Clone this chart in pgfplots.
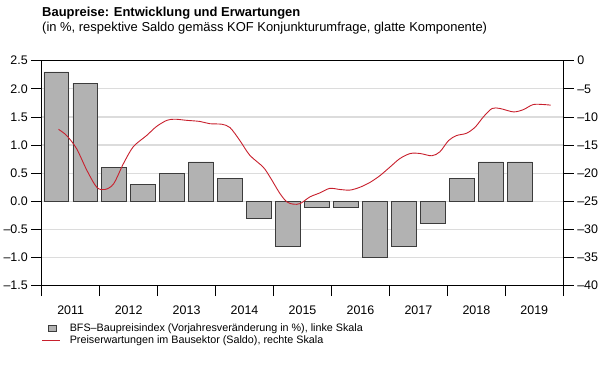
\documentclass[border=0pt]{standalone}
\usepackage{fontspec}
\setmainfont{Liberation Sans}
\usepackage{pgfplots}
\pgfplotsset{compat=1.18}
\definecolor{barfill}{RGB}{178,178,178}
\definecolor{bardraw}{RGB}{60,60,60}
\definecolor{linered}{RGB}{200,32,45}
\definecolor{gridgray}{RGB}{220,220,220}
\begin{document}
\begin{tikzpicture}
\path[use as bounding box] (0bp,0bp) rectangle (600bp,-374bp);
\node[anchor=west,font=\fontsize{13}{15}\selectfont\bfseries,inner sep=0] at (42bp,-13bp) {Baupreise: Entwicklung und Erwartungen};
\node[anchor=west,font=\fontsize{13}{15}\selectfont,inner sep=0] at (42bp,-28bp) {(in \%, respektive Saldo gemäss KOF Konjunkturumfrage, glatte Komponente)};
\begin{axis}[
  at={(41.7bp,-285.7bp)}, anchor=south west,
  width=521.6bp, height=225bp, scale only axis,
  xmin=2011, xmax=2020, ymin=-1.5, ymax=2.5,
  ytick={-1.5,-1,-0.5,0,0.5,1,1.5,2,2.5},
  yticklabels={–1.5,–1.0,–0.5,0.0,0.5,1.0,1.5,2.0,2.5},
  ytick pos=left, xtick pos=bottom,
  xtick={2011,2012,...,2020}, xticklabels={},
  minor x tick num=3,
  extra x ticks={2011.5,2012.5,2013.5,2014.5,2015.5,2016.5,2017.5,2018.5,2019.5},
  extra x tick labels={2011,2012,2013,2014,2015,2016,2017,2018,2019},
  extra x tick style={major tick length=0pt, xticklabel style={yshift=-17bp}},
  ymajorgrids, grid style={gridgray, line width=1.3bp},
  tick align=outside, major tick length=10.5bp, minor tick length=6bp,
  tick style={black, line width=0.9bp},
  axis line style={line width=1bp},
  tick label style={font=\fontsize{12.5}{14}\selectfont},
]
\addplot[ybar, bar width=24.5bp, bar shift=0pt, fill=barfill, draw=bardraw, line width=0.8bp] coordinates {
(2011.25,2.3) (2011.75,2.1) (2012.25,0.6) (2012.75,0.3) (2013.25,0.5) (2013.75,0.7)
(2014.25,0.4) (2014.75,-0.3) (2015.25,-0.8) (2015.75,-0.1) (2016.25,-0.1) (2016.75,-1.0)
(2017.25,-0.8) (2017.75,-0.4) (2018.25,0.4) (2018.75,0.7) (2019.25,0.7)};
\end{axis}
\begin{axis}[
  at={(41.7bp,-285.7bp)}, anchor=south west,
  width=521.6bp, height=225bp, scale only axis,
  xmin=2011, xmax=2020, ymin=-40, ymax=0,
  axis y line*=right, axis x line=none,
  ytick={-40,-35,-30,-25,-20,-15,-10,-5,0},
  yticklabels={–40,–35,–30,–25,–20,–15,–10,–5,0},
  tick align=outside, major tick length=10.5bp,
  tick style={black, line width=0.9bp},
  axis line style={line width=1bp},
  tick label style={font=\fontsize{12.5}{14}\selectfont},
  legend style={at={(0,-0.163)}, anchor=north west, draw=none, fill=none,
    font=\fontsize{10.8}{12}\selectfont, inner sep=0pt, row sep=1bp,
    nodes={inner sep=1bp},
    /tikz/every odd column/.append style={column sep=8bp}},
  legend cell align=left,
]
\addlegendimage{legend image code/.code={\draw[fill=barfill,draw=bardraw,line width=0.7bp] (6bp,-3bp) rectangle (14bp,3bp);}}
\addlegendentry{BFS–Baupreisindex (Vorjahresveränderung in \%), linke Skala}
\addplot[linered, line width=0.9bp, smooth, tension=0.5,
  legend image code/.code={\draw[linered,line width=0.9bp] (0bp,0bp) -- (18bp,0bp);}] coordinates {
(2011.29,-12.2) (2011.43,-13.3) (2011.60,-15.6) (2011.78,-19.5) (2011.95,-22.5)
(2012.09,-22.9) (2012.24,-21.9) (2012.41,-18.3) (2012.58,-15.3) (2012.81,-13.3)
(2012.98,-11.7) (2013.16,-10.6) (2013.30,-10.4) (2013.50,-10.6) (2013.73,-10.8)
(2013.90,-11.2) (2014.11,-11.3) (2014.25,-11.9) (2014.42,-14.2) (2014.59,-16.8)
(2014.82,-18.9) (2014.94,-20.7) (2015.11,-23.6) (2015.23,-25.1) (2015.34,-25.5)
(2015.46,-25.4) (2015.63,-24.2) (2015.80,-23.5) (2015.97,-22.7) (2016.15,-22.9)
(2016.32,-23.0) (2016.49,-22.5) (2016.67,-21.6) (2016.84,-20.4) (2017.01,-18.9)
(2017.18,-17.4) (2017.36,-16.5) (2017.53,-16.5) (2017.73,-16.9) (2017.87,-16.2)
(2018.02,-14.2) (2018.16,-13.3) (2018.33,-12.9) (2018.48,-11.8) (2018.62,-10.0)
(2018.77,-8.5) (2018.91,-8.5) (2019.14,-9.1) (2019.31,-8.7) (2019.48,-7.8)
(2019.67,-7.8) (2019.78,-7.9)};
\addlegendentry{Preiserwartungen im Bausektor (Saldo), rechte Skala}
\end{axis}
\end{tikzpicture}
\end{document}
